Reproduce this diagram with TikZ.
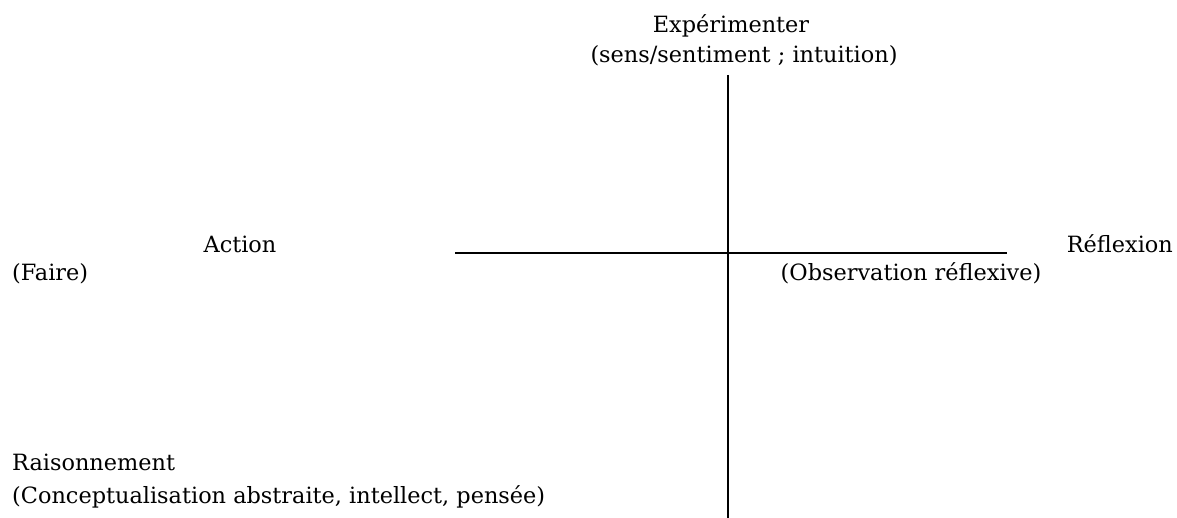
\documentclass[tikz,border=0pt]{standalone}
\usepackage{fontspec}
\setmainfont{DejaVu Serif}
\usetikzlibrary{positioning}

\tikzset{
  lbl/.style={inner sep=0pt, anchor=base west, font=\fontsize{22.4}{27}\selectfont},
  axe/.style={line width=1.5pt, black}
}

\begin{document}
\begin{tikzpicture}[x=1pt, y=-1pt]
	% cadre
	\useasboundingbox (0, 0) rectangle (1177, 518);

	% axes
	\coordinate (haut) at (728, 75);
	\coordinate (bas) at (728, 518);
	\coordinate (gauche) at (455, 253);
	\coordinate (droite) at (1007, 253);
	\draw[axe] (haut) -- (bas);
	\draw[axe] (gauche) -- (droite);

	% pole haut
	\node[lbl, anchor=base] (exp) at (731, 33) {Expérimenter};
	\node[lbl, anchor=base] (sens) at (744, 63) {(sens/sentiment ; intuition)};

	% pole gauche
	\node[lbl, anchor=base] (action) at (240, 253) {Action};
	\node[lbl] (faire) at (12, 281) {(Faire)};

	% pole droit
	\node[lbl, anchor=base east] (reflex) at (1173, 253) {Réflexion};
	\node[lbl, anchor=base] (obs) at (911, 281) {(Observation réflexive)};

	% pole bas
	\node[lbl] (rais) at (12, 470) {Raisonnement};
	\node[lbl] (concept) at (12, 503) {(Conceptualisation abstraite, intellect, pensée)};
\end{tikzpicture}
\end{document}
